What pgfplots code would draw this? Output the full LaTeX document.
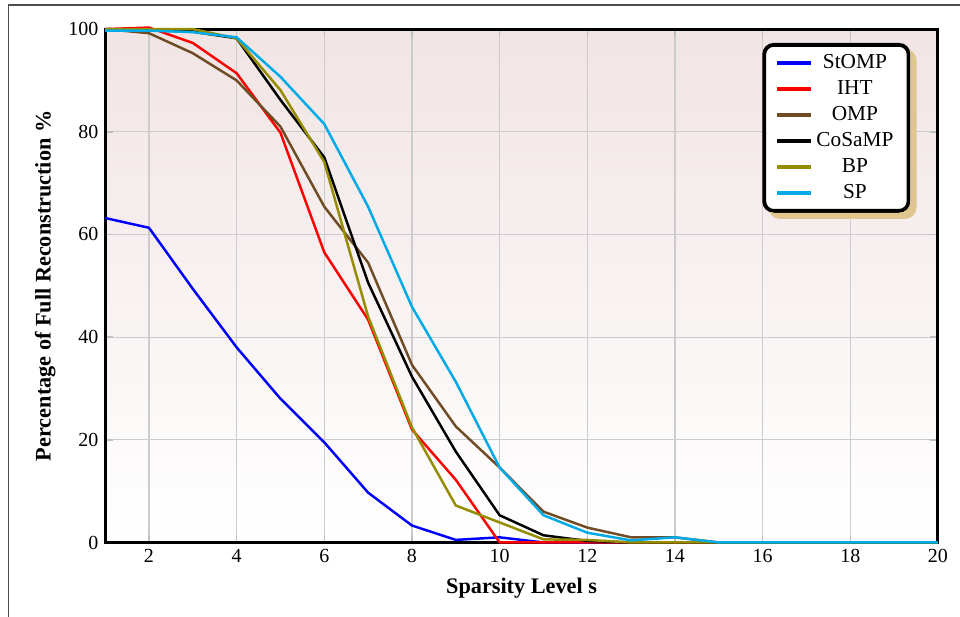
\documentclass[border=0pt]{standalone}
\usepackage{pgfplots}
\pgfplotsset{compat=1.18}
\usepackage{fontspec}
\setmainfont{Liberation Serif}

\definecolor{bgtop}{RGB}{241,228,228}
\definecolor{ompbrown}{RGB}{112,76,38}
\definecolor{bpolive}{RGB}{150,140,0}
\definecolor{spcyan}{RGB}{0,170,230}
\definecolor{shadowtan}{RGB}{222,198,142}

\begin{document}
\begin{tikzpicture}
\begin{axis}[
    scale only axis,
    width=438pt,
    height=270pt,
    xmin=1, xmax=20,
    ymin=0, ymax=100,
    xtick={2,4,...,20},
    ytick={0,20,...,100},
    axis line style={line width=1.6pt},
    grid=major,
    grid style={gray!40, line width=0.6pt},
    major tick length=4pt,
    tick style={gray!50, line width=0.8pt},
    /pgf/number format/assume math mode=true,
    tick label style={font=\fontsize{10.5}{12}\selectfont},
    axis background/.style={top color=bgtop, bottom color=white},
    xlabel={\textbf{Sparsity Level s}},
    ylabel={\textbf{Percentage of Full Reconstruction \%}},
    label style={font=\fontsize{11.7}{14}\selectfont},
    xlabel style={yshift=-1pt},
    clip=false,
    every axis plot/.append style={line width=1.3pt},
    legend cell align=center,
    legend image code/.code={
        \draw[line width=1.8pt] (0cm,0cm) -- (0.62cm,0cm);
    },
    legend style={
        name=leg,
        at={(0.967,0.973)}, anchor=north east,
        font=\fontsize{11.2}{13}\selectfont,
        draw=black, line width=2pt, rounded corners=5pt,
        fill=white,
        inner xsep=6pt, inner ysep=3pt,
        row sep=0.8pt,
    },
]
\coordinate (sw) at (rel axis cs:0,0);
\coordinate (ne) at (rel axis cs:1,1);

% StOMP
\addplot[blue] coordinates {
(1,63.2) (2,61.3) (3,49.4) (4,38.0) (5,28.0) (6,19.5) (7,9.7) (8,3.3) (9,0.5) (10,1.0)
(11,0) (12,0) (13,0) (14,0) (15,0) (16,0) (17,0) (18,0) (19,0) (20,0)};
% IHT
\addplot[red] coordinates {
(1,100) (2,100.3) (3,97.3) (4,91.4) (5,79.8) (6,56.5) (7,43.4) (8,22.0) (9,12.2) (10,0)
(11,0) (12,0) (13,0) (14,0) (15,0) (16,0) (17,0) (18,0) (19,0) (20,0)};
% OMP
\addplot[ompbrown] coordinates {
(1,100) (2,99.2) (3,95.3) (4,90.0) (5,81.0) (6,65.4) (7,54.5) (8,34.6) (9,22.6) (10,14.6)
(11,6.0) (12,2.9) (13,1.0) (14,1.0) (15,0) (16,0) (17,0) (18,0) (19,0) (20,0)};
% CoSaMP
\addplot[black] coordinates {
(1,100) (2,99.8) (3,99.5) (4,98.2) (5,86.2) (6,75.0) (7,50.6) (8,32.3) (9,17.7) (10,5.3)
(11,1.4) (12,0.3) (13,0) (14,0) (15,0) (16,0) (17,0) (18,0) (19,0) (20,0)};
% BP
\addplot[bpolive] coordinates {
(1,100) (2,100) (3,100) (4,98.2) (5,88.1) (6,74.1) (7,44.0) (8,22.4) (9,7.2) (10,3.9)
(11,0.6) (12,0.5) (13,0) (14,0) (15,0) (16,0) (17,0) (18,0) (19,0) (20,0)};
% SP
\addplot[spcyan] coordinates {
(1,99.7) (2,99.7) (3,99.4) (4,98.4) (5,90.7) (6,81.5) (7,65.4) (8,45.9) (9,31.3) (10,14.6)
(11,5.3) (12,1.9) (13,0.4) (14,1.0) (15,0) (16,0) (17,0) (18,0) (19,0) (20,0)};

\legend{StOMP, IHT, OMP, CoSaMP, BP, SP}
\end{axis}
% legend shadow, clipped so that the legend itself stays uncovered
\begin{scope}[even odd rule, rounded corners=6pt]
  \clip (-200pt,-200pt) rectangle (700pt,500pt)
        (leg.south west) rectangle (leg.north east);
  \fill[shadowtan]
      ([shift={(3.2pt,-3.2pt)}]leg.south west) rectangle ([shift={(3.2pt,-3.2pt)}]leg.north east);
\end{scope}
% page size and outer frame
\pgfresetboundingbox
\useasboundingbox ([xshift=-55.3pt,yshift=-38.9pt]sw) rectangle ([xshift=11.6pt,yshift=15.3pt]ne);
\draw[black!70, line width=0.7pt]
    ([xshift=-51pt,yshift=-60pt]sw) -- ([xshift=-51pt,yshift=12.6pt]sw |- ne)
    -- ([xshift=40pt,yshift=12.6pt]ne);
\end{tikzpicture}
\end{document}
